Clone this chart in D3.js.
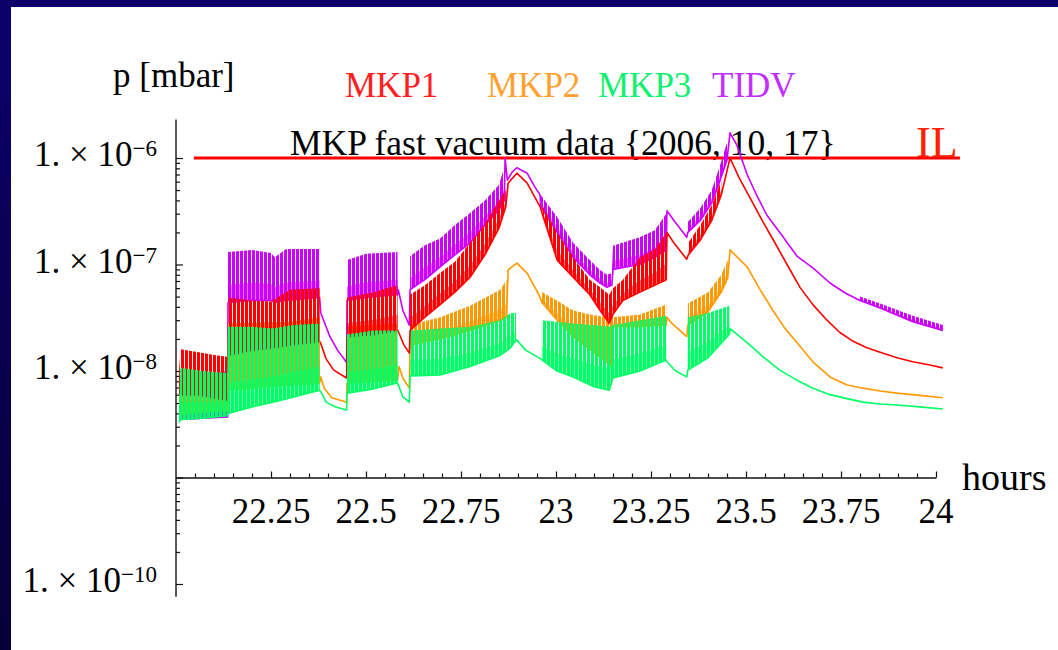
<!DOCTYPE html>
<html>
<head>
<meta charset="utf-8">
<script src="https://cdn.jsdelivr.net/npm/d3@7"></script>
<style>
  body { margin: 0; background: #fff; }
  svg { display: block; }
  text { font-family: "Liberation Serif", "Times New Roman", serif; }
</style>
</head>
<body>
<svg id="chart" width="1058" height="650"></svg>
<script>
// ---- data (p in mbar, t in hours) ----
// each point: [hours, low, high]; points without "high" are plain line samples
const xTickLabels = [22.25, 22.5, 22.75, 23, 23.25, 23.5, 23.75, 24];
const yTickLabels = [1e-10, 1e-8, 1e-7, 1e-6];
const interlockLevel = 1e-6;
const interlockSpan = [22.047, 24.063];
const seriesNames = ["MKP1", "MKP2", "MKP3", "TIDV"];

const tidv = [
  [22.008, 3.5e-9, 9.0e-9], [22.136, 3.7e-9, 1.0e-8],
  [22.137, 4.4e-8, 1.31e-7], [22.2, 4.6e-8, 1.37e-7], [22.25, 4.6e-8, 1.28e-7], [22.26, 4.4e-8, 1.17e-7], [22.29, 4.6e-8, 1.4e-7], [22.378, 4.9e-8, 1.4e-7],
  [22.381, 3.5e-8], [22.39, 2.9e-8], [22.405, 2.1e-8], [22.425, 1.57e-8], [22.449, 1.2e-8],
  [22.45, 4.6e-8, 1.1e-7], [22.5, 4.9e-8, 1.26e-7], [22.583, 5.2e-8, 1.31e-7],
  [22.585, 5.8e-8], [22.597, 3.7e-8], [22.614, 2.7e-8],
  [22.616, 5.8e-8, 1.2e-7], [22.655, 7.2e-8, 1.52e-7], [22.695, 9.5e-8, 1.75e-7], [22.734, 1.23e-7, 2.35e-7], [22.774, 1.6e-7, 3.05e-7], [22.813, 2.35e-7, 4.0e-7], [22.85, 3.25e-7, 5.6e-7], [22.864, 4.0e-7, 8.2e-7],
  [22.866, 1.0e-6], [22.872, 6.2e-7], [22.885, 7.4e-7], [22.897, 8.1e-7], [22.924, 7.2e-7], [22.945, 5.3e-7], [22.958, 4.5e-7],
  [22.96, 3.5e-7, 4.5e-7], [23.003, 2.0e-7, 2.8e-7], [23.045, 1.17e-7, 1.6e-7], [23.089, 8.0e-8, 1.1e-7], [23.116, 6.7e-8, 8.9e-8], [23.134, 6.1e-8, 8.0e-8], [23.147, 6.4e-8, 8.3e-8], [23.15, 9.0e-8, 1.5e-7], [23.22, 1.0e-7, 1.8e-7], [23.26, 1.17e-7, 2.1e-7], [23.29, 1.37e-7, 3.0e-7],
  [23.292, 3.2e-7], [23.31, 2.6e-7], [23.344, 1.8e-7],
  [23.347, 2.0e-7, 2.5e-7], [23.38, 2.6e-7, 3.4e-7], [23.41, 3.8e-7, 5.0e-7], [23.432, 6.2e-7, 8.6e-7], [23.45, 9.6e-7, 1.4e-6],
  [23.458, 1.72e-6], [23.476, 1.32e-6], [23.503, 7.0e-7], [23.529, 4.4e-7], [23.555, 2.9e-7], [23.589, 2.0e-7], [23.634, 1.2e-7], [23.676, 9.3e-8], [23.721, 6.7e-8], [23.761, 5.4e-8],
  [23.8, 4.6e-8, 5.0e-8], [23.853, 3.9e-8, 4.3e-8], [23.939, 2.9e-8, 3.3e-8], [24.018, 2.4e-8, 2.7e-8]
];

const mkp1 = [
  [22.008, 6.2e-9, 1.02e-8], [22.012, 6.0e-9, 1.6e-8], [22.06, 6.0e-9, 1.5e-8], [22.1, 5.6e-9, 1.41e-8], [22.135, 5.3e-9, 1.36e-8],
  [22.137, 1.41e-8, 4.9e-8], [22.2, 1.57e-8, 4.6e-8], [22.25, 1.65e-8, 4.5e-8], [22.3, 1.75e-8, 5.8e-8], [22.378, 1.9e-8, 6.0e-8],
  [22.38, 1.85e-8], [22.395, 1.3e-8], [22.415, 1.02e-8], [22.449, 8.6e-9],
  [22.45, 2.1e-8, 4.9e-8], [22.52, 2.2e-8, 5.5e-8], [22.583, 2.4e-8, 6.4e-8],
  [22.586, 2.3e-8], [22.6, 1.75e-8], [22.614, 1.47e-8],
  [22.616, 2.4e-8, 5.2e-8], [22.655, 3.2e-8, 6.4e-8], [22.695, 4.2e-8, 8.3e-8], [22.734, 5.5e-8, 1.06e-7], [22.774, 7.6e-8, 1.6e-7], [22.813, 1.23e-7, 2.4e-7], [22.85, 2.2e-7, 4.0e-7], [22.868, 3.5e-7, 5.0e-7],
  [22.874, 5.8e-7], [22.897, 7.2e-7], [22.924, 5.8e-7], [22.958, 3.5e-7],
  [22.965, 2.9e-7, 3.5e-7], [23.003, 1.1e-7, 2.0e-7], [23.045, 7.6e-8, 1.17e-7], [23.089, 5.2e-8, 7.2e-8], [23.116, 3.7e-8, 6.1e-8], [23.14, 2.8e-8, 5.2e-8], [23.15, 3.4e-8, 6.0e-8], [23.176, 4.6e-8, 7.2e-8], [23.221, 5.5e-8, 1.17e-7], [23.261, 6.4e-8, 1.4e-7], [23.29, 7.2e-8, 2.0e-7],
  [23.292, 2.0e-7], [23.31, 1.6e-7], [23.344, 1.12e-7],
  [23.348, 1.23e-7, 1.6e-7], [23.38, 1.7e-7, 2.35e-7], [23.41, 2.6e-7, 3.6e-7], [23.435, 4.5e-7, 6.2e-7],
  [23.458, 1.0e-6], [23.482, 6.5e-7], [23.511, 4.2e-7], [23.545, 2.5e-7], [23.576, 1.6e-7], [23.608, 1.0e-7], [23.642, 6.1e-8], [23.676, 4.2e-8], [23.713, 3.0e-8], [23.747, 2.3e-8], [23.782, 1.9e-8], [23.818, 1.65e-8], [23.853, 1.5e-8], [23.897, 1.33e-8], [23.939, 1.22e-8], [23.984, 1.14e-8], [24.018, 1.07e-8]
];

const mkp2 = [
  [22.008, 3.9e-9, 8.6e-9], [22.135, 4.3e-9, 9.2e-9],
  [22.137, 6.6e-9, 2.8e-8], [22.3, 7.4e-9, 2.9e-8], [22.378, 7.7e-9, 3.2e-8],
  [22.381, 8.8e-9], [22.39, 6.9e-9], [22.41, 5.6e-9], [22.449, 5.1e-9],
  [22.45, 7.7e-9, 2.6e-8], [22.583, 8.2e-9, 2.8e-8],
  [22.587, 1.1e-8], [22.597, 8.6e-9], [22.614, 6.9e-9],
  [22.616, 1.75e-8, 2.7e-8], [22.695, 2.0e-8, 3.2e-8], [22.774, 2.4e-8, 4.1e-8], [22.853, 3.0e-8, 5.8e-8], [22.87, 3.2e-8, 7.2e-8],
  [22.874, 8.9e-8], [22.897, 1.03e-7], [22.924, 8.3e-8], [22.955, 5.2e-8],
  [22.963, 4.4e-8, 5.5e-8], [23.003, 3.0e-8, 4.6e-8], [23.045, 2.1e-8, 3.7e-8], [23.089, 1.6e-8, 3.4e-8], [23.134, 1.2e-8, 3.2e-8], [23.145, 1.1e-8, 3.2e-8], [23.15, 2.6e-8, 3.2e-8], [23.221, 2.6e-8, 3.4e-8], [23.29, 2.7e-8, 4.2e-8],
  [23.292, 3.2e-8], [23.305, 2.8e-8], [23.344, 2.1e-8],
  [23.347, 2.7e-8, 4.3e-8], [23.4, 3.6e-8, 5.5e-8], [23.435, 5.5e-8, 8.0e-8], [23.452, 7.5e-8, 1.1e-7],
  [23.458, 1.37e-7], [23.503, 9.5e-8], [23.537, 5.8e-8], [23.571, 3.7e-8], [23.603, 2.5e-8], [23.634, 1.85e-8], [23.676, 1.22e-8], [23.721, 8.8e-9], [23.766, 7.4e-9], [23.808, 6.9e-9], [23.853, 6.5e-9], [23.897, 6.2e-9], [23.958, 5.9e-9], [24.018, 5.6e-9]
];

const mkp3 = [
  [22.008, 3.3e-9, 4.3e-9], [22.012, 3.5e-9, 1.07e-8], [22.07, 3.6e-9, 1.0e-8], [22.135, 3.8e-9, 9.6e-9],
  [22.137, 4.0e-9, 2.6e-8], [22.2, 4.6e-9, 2.6e-8], [22.255, 5.1e-9, 2.5e-8], [22.31, 5.7e-9, 2.7e-8], [22.378, 6.6e-9, 2.8e-8],
  [22.381, 6.4e-9], [22.395, 5.1e-9], [22.42, 4.6e-9], [22.449, 4.3e-9],
  [22.45, 6.2e-9, 2.2e-8], [22.52, 6.8e-9, 2.4e-8], [22.583, 7.7e-9, 2.4e-8],
  [22.587, 7.1e-9], [22.597, 5.7e-9], [22.614, 5.1e-9],
  [22.616, 9.0e-9, 2.4e-8], [22.695, 9.2e-9, 2.5e-8], [22.774, 1.1e-8, 2.6e-8], [22.853, 1.4e-8, 3.0e-8], [22.88, 1.65e-8, 3.5e-8], [22.895, 1.95e-8, 3.5e-8],
  [22.897, 1.95e-8], [22.92, 1.57e-8], [22.96, 1.3e-8],
  [22.963, 1.27e-8, 3.0e-8], [23.003, 1.0e-8, 2.9e-8], [23.045, 8.8e-9, 2.8e-8], [23.1, 7.1e-9, 2.7e-8], [23.14, 6.6e-9, 2.6e-8], [23.15, 8.6e-9, 2.7e-8], [23.221, 1.0e-8, 3.0e-8], [23.29, 1.27e-8, 3.3e-8],
  [23.292, 1.22e-8], [23.315, 1.0e-8], [23.344, 8.8e-9],
  [23.347, 1.02e-8, 3.2e-8], [23.4, 1.33e-8, 3.5e-8], [23.456, 2.2e-8, 4.1e-8],
  [23.458, 2.5e-8], [23.503, 1.85e-8], [23.545, 1.36e-8], [23.589, 1.02e-8], [23.634, 8.2e-9], [23.676, 6.9e-9], [23.721, 6.0e-9], [23.766, 5.5e-9], [23.808, 5.1e-9], [23.853, 4.9e-9], [23.897, 4.8e-9], [23.958, 4.6e-9], [24.018, 4.4e-9]
];

// ---- setup ----
const W = 1058, H = 650;
const colors = { MKP1: "#ff0000", MKP2: "#ff9900", MKP3: "#00ff66", TIDV: "#cc00ff" };
const legendColors = { MKP1: "#ff2020", MKP2: "#ffa030", MKP3: "#10f070", TIDV: "#c030ff" };

const svg = d3.select("#chart");

const x = d3.scaleLinear().domain([22, 24]).range([176, 936]);
const y = d3.scaleLog().domain([1e-10, 1e-6]).range([584, 158]);
const yAxisExtent = [7.6e-11, 2.3e-6];

const defs = svg.append("defs");

// slide frame
const frameGrad = defs.append("linearGradient")
  .attr("id", "frameGrad").attr("x1", 0).attr("y1", 0).attr("x2", 0).attr("y2", 1);
frameGrad.append("stop").attr("offset", "0%").attr("stop-color", "#0c006b");
frameGrad.append("stop").attr("offset", "100%").attr("stop-color", "#070036");

svg.append("rect").attr("width", W).attr("height", H).attr("fill", "#fff");
svg.append("rect").attr("x", 0).attr("y", 0).attr("width", W).attr("height", 7).attr("fill", "#0c006b");
svg.append("rect").attr("x", 0).attr("y", 0).attr("width", 11).attr("height", H).attr("fill", "url(#frameGrad)");

// striped fill for the fast pulse bands
const stripeOffset = { TIDV: 0, MKP2: 2, MKP1: 1, MKP3: 3 };
Object.keys(colors).forEach(k => {
  const p = defs.append("pattern")
    .attr("id", "stripe-" + k)
    .attr("patternUnits", "userSpaceOnUse")
    .attr("x", stripeOffset[k]).attr("y", 0)
    .attr("width", 4).attr("height", 8);
  p.append("rect").attr("width", 3).attr("height", 8).attr("fill", colors[k]);
});

// ---- axes ----
const axisColor = "#111";

// y axis (ticks point into the plot)
const yTicks = y.ticks();
const isDecade = v => Math.abs(Math.log10(v) - Math.round(Math.log10(v))) < 1e-6;
const yAxisG = svg.append("g")
  .attr("transform", "translate(" + x(22) + ",0)")
  .call(d3.axisRight(y).tickValues(yTicks).tickFormat("").tickSize(4).tickSizeOuter(0));
yAxisG.select(".domain").remove();
yAxisG.selectAll(".tick line")
  .attr("stroke", axisColor).attr("stroke-width", 1.2)
  .attr("x2", d => isDecade(d) ? 7 : 4);
yAxisG.append("line")
  .attr("x1", 0).attr("x2", 0)
  .attr("y1", y(yAxisExtent[0])).attr("y2", y(yAxisExtent[1]))
  .attr("stroke", axisColor).attr("stroke-width", 1.4);

// x axis crosses at 1e-9
const x0y = y(1e-9);
const xTicks = x.ticks(40).filter(v => v > 22.001);
const isMajorX = v => Math.abs(v * 4 - Math.round(v * 4)) < 1e-6;
const xAxisG = svg.append("g")
  .attr("transform", "translate(0," + x0y + ")")
  .call(d3.axisTop(x).tickValues(xTicks).tickFormat("").tickSize(4).tickSizeOuter(0));
xAxisG.select(".domain").attr("stroke", axisColor).attr("stroke-width", 1.4);
xAxisG.selectAll(".tick line")
  .attr("stroke", axisColor).attr("stroke-width", 1.2)
  .attr("y2", d => isMajorX(d) ? -6 : -4);

// x tick labels
svg.append("g").selectAll("text")
  .data(xTickLabels)
  .join("text")
  .attr("x", d => x(d))
  .attr("y", 523)
  .attr("text-anchor", "middle")
  .attr("font-size", 35)
  .attr("fill", "#000")
  .text(d => String(d));

// y tick labels: 1. × 10^n
const yLab = svg.append("g").selectAll("text")
  .data(yTickLabels)
  .join("text")
  .attr("x", 157)
  .attr("y", d => y(d) + 8)
  .attr("text-anchor", "end")
  .attr("font-size", 35)
  .attr("fill", "#000");
yLab.append("tspan").text("1. \u00d7 10");
yLab.append("tspan")
  .attr("font-size", 23)
  .attr("dy", -10)
  .text(d => "\u2212" + Math.abs(Math.round(Math.log10(d))));

// axis titles
svg.append("text").attr("x", 113).attr("y", 87).attr("font-size", 35).text("p [mbar]");
svg.append("text").attr("x", 962).attr("y", 490).attr("font-size", 38).text("hours");

// legend
const legendX = { MKP1: 345, MKP2: 487, MKP3: 598, TIDV: 712 };
svg.append("g").selectAll("text")
  .data(seriesNames)
  .join("text")
  .attr("x", d => legendX[d])
  .attr("y", 97)
  .attr("font-size", 35)
  .attr("fill", d => legendColors[d])
  .text(d => d);

// title
svg.append("text")
  .attr("x", 290).attr("y", 155)
  .attr("font-size", 35.5)
  .attr("fill", "#000")
  .text("MKP fast vacuum data {2006, 10, 17}");

// interlock level
svg.append("path")
  .datum(interlockSpan)
  .attr("d", d3.line().x(d => x(d)).y(() => y(interlockLevel)))
  .attr("stroke", "#ff0000")
  .attr("stroke-width", 3)
  .attr("fill", "none");
svg.append("text")
  .attr("x", 916).attr("y", 157)
  .attr("font-size", 44)
  .attr("fill", "#ff2000")
  .text("IL");

// ---- series ----
const drawOrder = [["TIDV", tidv], ["MKP2", mkp2], ["MKP1", mkp1], ["MKP3", mkp3]];

const band = d3.area()
  .defined(d => d.length > 2)
  .x(d => x(d[0]))
  .y0(d => y(d[1]))
  .y1(d => y(d[2]));

// denser lower part of each pulse band (pressure sits near the low value between pulses)
const bandCore = d3.area()
  .defined(d => d.length > 2)
  .x(d => x(d[0]))
  .y0(d => y(d[1]))
  .y1(d => y(d[1]) + 0.35 * (y(d[2]) - y(d[1])));

const lowLine = d3.line()
  .x(d => x(d[0]))
  .y(d => y(d[1]));

const plot = svg.append("g");
drawOrder.forEach(([name, data]) => {
  const g = plot.append("g").attr("class", "series " + name);
  g.append("path")
    .datum(data)
    .attr("d", band)
    .attr("fill", "url(#stripe-" + name + ")");
  g.append("path")
    .datum(data)
    .attr("d", bandCore)
    .attr("fill", colors[name])
    .attr("fill-opacity", 0.55);
  g.append("path")
    .datum(data)
    .attr("d", lowLine)
    .attr("fill", "none")
    .attr("stroke", colors[name])
    .attr("stroke-width", 1.6)
    .attr("stroke-linejoin", "round");
});
</script>
</body>
</html>
